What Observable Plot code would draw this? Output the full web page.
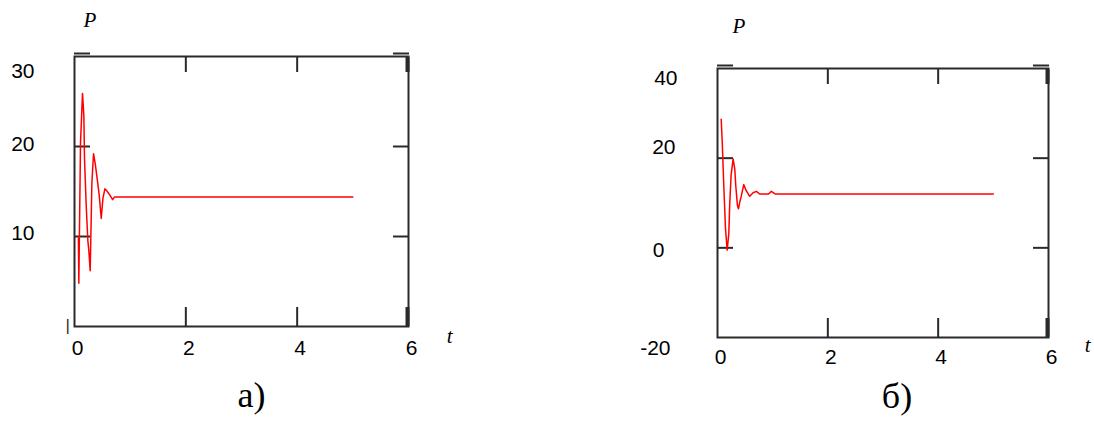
<!DOCTYPE html>
<html><head><meta charset="utf-8">
<script src="https://cdn.jsdelivr.net/npm/d3@7"></script>
<script src="https://cdn.jsdelivr.net/npm/@observablehq/plot@0.6"></script>
<style>
html,body{margin:0;padding:0;background:#fff;}
#page{position:relative;width:1094px;height:427px;overflow:hidden;background:#fff;}
.panel{position:absolute;top:0;}
</style></head>
<body><div id="page"><div id="a" class="panel" style="left:0"></div><div id="b" class="panel" style="left:547px"></div></div>
<script>
// ---- data ----
const tA = [0.07, 0.078, 0.108, 0.144, 0.168, 0.18, 0.21, 0.24, 0.258, 0.282, 0.312, 0.342, 0.372, 0.408, 0.444, 0.48, 0.51, 0.546, 0.59, 0.636, 0.685, 0.72, 5.0];
const pA = [9.8, 4.8, 20.4, 25.9, 23.4, 18.6, 13.5, 9.5, 8.4, 6.2, 15.9, 19.2, 18.1, 16.4, 14.6, 12.0, 14.2, 15.3, 15.0, 14.6, 14.1, 14.4, 14.4];
const tB = [0.067, 0.085, 0.114, 0.145, 0.175, 0.205, 0.222, 0.247, 0.283, 0.313, 0.331, 0.361, 0.38, 0.404, 0.434, 0.476, 0.518, 0.584, 0.645, 0.705, 0.765, 0.927, 0.976, 1.05, 5.0];
const pB = [28.7, 23.9, 13.9, 4.3, -0.5, 3.2, 9.9, 16.2, 19.8, 17.6, 13.9, 9.5, 8.7, 10.2, 11.7, 14.1, 12.8, 11.5, 12.3, 12.6, 12.0, 12.0, 12.6, 12.0, 12.0];
const xTicks = [0, 2, 4, 6];
const yTicksA = [30, 20, 10];
const yTicksB = [40, 20, 0, -20];
const yDomainA = [0, 30];
const yDomainB = [-20, 40];
const yName = "P";
const xName = "t";
const captionA = "а)";
const captionB = "б)";

const ink = "#2a2a2a";
const numFont = "'Liberation Sans', Arial, sans-serif";
const serif = "'Liberation Serif', 'Times New Roman', serif";

function panel(cfg) {
  const data = cfg.t.map((t, i) => ({t, P: cfg.p[i]}));
  const innerX = xTicks.slice(1, -1);
  const lastX = xTicks.slice(-1);
  const yMax = [d3.max(cfg.yDomain)];
  const innerY = cfg.yTicks.filter(v => v !== cfg.yDomain[0] && v !== cfg.yDomain[1]);
  const blank = () => "";
  const ax = {tickFormat: blank, stroke: ink, label: null};
  const marks = [
    Plot.frame({stroke: ink, strokeWidth: 2}),
    Plot.axisX(innerX, {...ax, anchor: "bottom", tickSize: -cfg.tickBottom, strokeWidth: 2}),
    Plot.axisX(innerX, {...ax, anchor: "top", tickSize: -15, strokeWidth: 2}),
    Plot.axisX(lastX, {...ax, anchor: "bottom", tickSize: -cfg.tickBottom, strokeWidth: 4, dx: -1}),
    Plot.axisX(lastX, {...ax, anchor: "top", tickSize: -15, strokeWidth: 4, dx: -1}),
    Plot.axisY(innerY, {...ax, anchor: "left", tickSize: -16, strokeWidth: 2}),
    Plot.axisY(innerY, {...ax, anchor: "right", tickSize: -16, strokeWidth: 2}),
    Plot.axisY(yMax, {...ax, anchor: "left", tickSize: -16, strokeWidth: 2, dy: -3}),
    Plot.axisY(yMax, {...ax, anchor: "right", tickSize: -16, strokeWidth: 2, dy: -3}),
    Plot.line(data, {x: "t", y: "P", stroke: "#ff0000", strokeWidth: 1.5}),
    Plot.text(xTicks, {x: d => d, frameAnchor: "bottom", dy: cfg.xLabelDy, dx: 3, fontSize: 21, fontFamily: numFont, fill: "#000"}),
    ...cfg.yTicks.map((v, i) => Plot.text([v], {y: d => d, frameAnchor: "left", textAnchor: "end", dx: cfg.yLabelDx[i], dy: cfg.yLabelDy[i], fontSize: 21, fontFamily: numFont, fill: "#000"})),
    Plot.text([yName], {frameAnchor: "top-left", dx: cfg.pDx, dy: cfg.pDy, fontSize: 21, fontStyle: "italic", fontFamily: serif, fill: "#000"}),
    Plot.text([xName], {frameAnchor: "bottom-right", dx: cfg.tDx, dy: cfg.tDy, fontSize: 21, fontStyle: "italic", fontFamily: serif, fill: "#000"}),
    Plot.text([cfg.caption], {frameAnchor: "bottom", dx: cfg.capDx, dy: cfg.capDy, fontSize: 36, fontFamily: serif, fill: "#000"})
  ];
  if (cfg.stub) marks.push(Plot.text([cfg.stub], {frameAnchor: "bottom-left", dx: -9, dy: 4, fontSize: 17, fontFamily: numFont, fill: ink}));
  return Plot.plot({
    width: 547, height: 427,
    marginLeft: cfg.ml, marginRight: cfg.mr, marginTop: cfg.mt, marginBottom: cfg.mb,
    x: {domain: [0, 6]},
    y: {domain: cfg.yDomain},
    style: {background: "transparent", fontFamily: numFont, overflow: "visible"},
    marks
  });
}

document.getElementById("a").appendChild(panel({
  t: tA, p: pA, yDomain: yDomainA, yTicks: yTicksA,
  ml: 74, mr: 139, mt: 56, mb: 101, tickBottom: 19,
  xLabelDy: 28, yLabelDx: [-40, -40, -40], yLabelDy: [15, -2, -3],
  pDx: 9, pDy: -44, tDx: 44, tDy: 16, caption: captionA, capDx: 10, capDy: 80, stub: "|"
}));
document.getElementById("b").appendChild(panel({
  t: tB, p: pB, yDomain: yDomainB, yTicks: yTicksB,
  ml: 170, mr: 46, mt: 68, mb: 90, tickBottom: 19,
  xLabelDy: 26, yLabelDx: [-40, -42, -53, -47], yLabelDy: [10, -11, 2, 11],
  pDx: 15, pDy: -50, tDx: 42, tDy: 14, caption: captionB, capDx: 14, capDy: 70
}));
</script>
</body></html>
